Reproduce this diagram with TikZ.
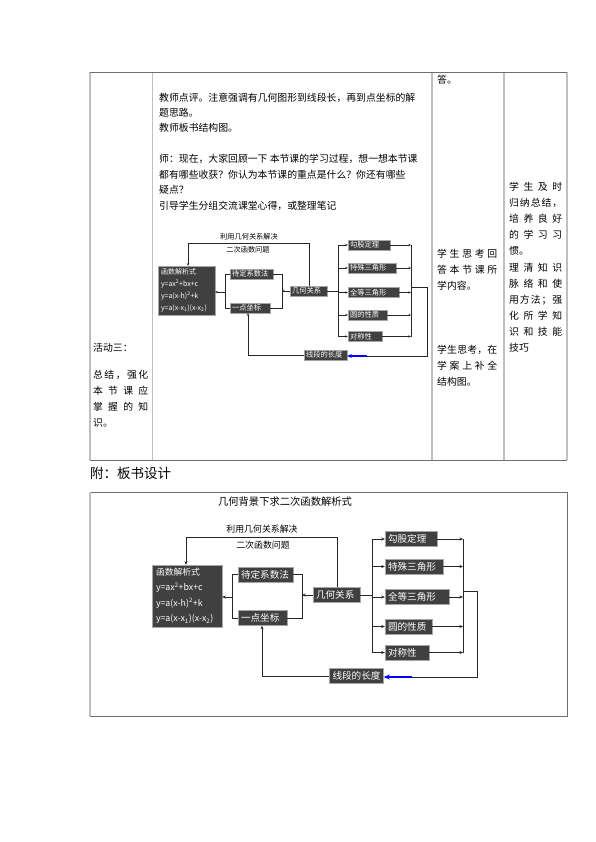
\documentclass[tikz,border=0pt]{standalone}
\usepackage{fontspec}
\setmainfont{Noto Sans CJK SC}
\usetikzlibrary{arrows.meta}
\definecolor{boxgray}{HTML}{404040}
\definecolor{rulegray}{HTML}{BFBFBF}
\definecolor{linegray}{HTML}{6E6E6E}
\newcommand\fsz[1]{\fontsize{#1}{#1}\selectfont}
\def\sprB#1{#1\sprC}
\def\sprC#1{\ifx\relax#1\else\hfill#1\expandafter\sprC\fi}
\newcommand\spr[2]{\makebox[#1][s]{\sprB#2\relax}}
\begin{document}
\begin{tikzpicture}[x=1pt,y=-1pt,
  blk/.style={fill=boxgray,draw=gray!70,text=white,inner ysep=1pt},
  bbox/.style={blk,minimum height=15pt,text width=#1,inner xsep=3pt,font=\fsz{9.6}},
  sbox/.style={blk,minimum height=10pt,text width=#1,inner xsep=2pt,font=\fsz{7.3}},
  link/.style={draw=black!85,line width=0.8pt},
  arr/.style={link,-{Stealth[length=3.5pt,width=3pt]}},
  slink/.style={draw=black!85,line width=0.6pt},
  sarr/.style={slink,-{Stealth[length=2.6pt,width=2.3pt]}},
  txt/.style={anchor=west,inner sep=0pt,font=\fsz{9.85}},
  hline/.style={draw=linegray,line width=0.9pt},
  vline/.style={draw=rulegray,line width=1.4pt}]
  \fill[white] (0,0) rectangle (595,842);
  \useasboundingbox (0,0) rectangle (595,842);
  % table
  \draw[vline] (90,72) -- (90,460);
  \draw[vline] (152.5,72) -- (152.5,460);
  \draw[vline] (432,72) -- (432,460);
  \draw[vline] (504,72) -- (504,460);
  \draw[vline] (567,72) -- (567,460);
  \draw[hline] (90,72) -- (567,72);
  \draw[hline] (90,460) -- (567,460);
  \node[txt] (h1) at (93,348) {活动三：};
  \node[txt] (h2) at (93,375) {\spr{55pt}{总结，强化}};
  \node[txt] (h3) at (93,391) {\spr{55pt}{本节课应}};
  \node[txt] (h4) at (93,407) {\spr{55pt}{掌握的知}};
  \node[txt] (h5) at (93,423) {识。};
  \node[txt] (t1) at (159,98) {教师点评。注意强调有几何图形到线段长，再到点坐标的解};
  \node[txt] (t2) at (159,113) {题思路。};
  \node[txt] (t3) at (159,128) {教师板书结构图。};
  \node[txt] (t4) at (159,159) {师：现在，大家回顾一下 本节课的学习过程，想一想本节课};
  \node[txt] (t5) at (159,175) {都有哪些收获？你认为本节课的重点是什么？你还有哪些};
  \node[txt] (t6) at (159,190) {疑点？};
  \node[txt] (t7) at (159,206) {引导学生分组交流课堂心得，或整理笔记};
  \node[txt] (s0) at (437,80) {答。};
  \node[txt] (s1) at (437,254) {\spr{60pt}{学生思考回}};
  \node[txt] (s2) at (437,270) {\spr{60pt}{答本节课所}};
  \node[txt] (s3) at (437,286) {学内容。};
  \node[txt] (s4) at (437,350) {\spr{60pt}{学生思考，在}};
  \node[txt] (s5) at (437,366) {\spr{60pt}{学案上补全}};
  \node[txt] (s6) at (437,382) {结构图。};
  \node[txt] (m1) at (509,187) {\spr{53pt}{学生及时}};
  \node[txt] (m2) at (509,203) {\spr{53pt}{归纳总结，}};
  \node[txt] (m3) at (509,219) {\spr{53pt}{培养良好}};
  \node[txt] (m4) at (509,235) {\spr{53pt}{的学习习}};
  \node[txt] (m5) at (509,251) {惯。};
  \node[txt] (m6) at (509,268) {\spr{53pt}{理清知识}};
  \node[txt] (m7) at (509,284) {\spr{53pt}{脉络和使}};
  \node[txt] (m8) at (509,300) {\spr{53pt}{用方法；强}};
  \node[txt] (m9) at (509,316) {\spr{53pt}{化所学知}};
  \node[txt] (m10) at (509,332) {\spr{53pt}{识和技能}};
  \node[txt] (m11) at (509,348) {技巧};
  % small board diagram
  \node[blk,text width=51pt,inner xsep=3pt,minimum height=49pt,align=left,font=\fontsize{7}{12}\selectfont] (shanshu) at (186.5,290.5)
    {函数解析式\\y=ax\textsuperscript{2}+bx+c\\y=a(x-h)\textsuperscript{2}+k\\y=a(x-x\textsubscript{1})(x-x\textsubscript{2})};
  \node[sbox=39pt] (sdaiding) at (251.5,274) {待定系数法};
  \node[sbox=36pt] (szuobiao) at (250,308) {一点坐标};
  \node[sbox=33pt] (sjihe) at (308.5,291) {几何关系};
  \node[sbox=38pt] (sgougu) at (369,245) {勾股定理};
  \node[sbox=44pt] (steshu) at (372,268) {特殊三角形};
  \node[sbox=47pt] (squandeng) at (373.5,292.5) {全等三角形};
  \node[sbox=35pt] (syuan) at (367.5,315) {圆的性质};
  \node[sbox=30pt] (sduicheng) at (365,336.5) {对称性};
  \node[sbox=39pt] (sxianduan) at (325.5,355) {线段的长度};
  \node[inner sep=0pt,font=\fsz{7.2}] (slabA) at (249,237) {利用几何关系解决};
  \node[inner sep=0pt,font=\fsz{7.2}] (slabB) at (248,250) {二次函数问题};
  \coordinate (stl) at (188,243);
  \coordinate (str) at (309,243);
  \draw[sarr] (sjihe.north -| str) -- (str) -- (stl) -- (shanshu.north -| stl);
  \coordinate (slb) at (225,292);
  \draw[slink] (sdaiding.west) -- (sdaiding.west -| slb) -- (szuobiao.west -| slb) -- (szuobiao.west);
  \draw[sarr] (slb) -- (slb -| shanshu.east);
  \coordinate (srb) at (282,291);
  \draw[slink] (sdaiding.east) -- (sdaiding.east -| srb) -- (szuobiao.east -| srb) -- (szuobiao.east);
  \draw[sarr] (sjihe.west) -- (srb);
  \coordinate (slv) at (338,0);
  \coordinate (srv) at (411,0);
  \draw[slink] (sjihe.east) -- (sjihe.east -| slv);
  \draw[slink] (sgougu.west -| slv) -- (sduicheng.west -| slv);
  \draw[slink] (sgougu.east -| srv) -- (sduicheng.east -| srv);
  \foreach \n in {sgougu,steshu,squandeng,syuan,sduicheng} {
    \draw[sarr] (\n.west -| slv) -- (\n.west);
    \draw[sarr] (\n.east) -- (\n.east -| srv);
  }
  \coordinate (slp) at (367,356);
  \draw[slink] (411,287) -- (427,287) -- (427,356) -- (slp);
  \draw[blue,line width=1.3pt,-{Stealth[length=4.5pt,width=4pt]}] (slp) -- (slp -| sxianduan.east);
  \coordinate (sbl) at (248,355);
  \draw[sarr] (sxianduan.west) -- (sxianduan.west -| sbl) -- (szuobiao.south -| sbl);
  % board design
  \node[txt,font=\fsz{13.5}] (fu) at (90,473) {附：板书设计};
  \draw[hline] (90,492) -- (567,492) -- (567,716) -- (90,716);
  \draw[vline] (90,492) -- (90,716);
  \node[inner sep=0pt,font=\fsz{10.3}] (title) at (285,502) {几何背景下求二次函数解析式};
  \node[blk,text width=62pt,inner xsep=4pt,minimum height=62pt,align=left,font=\fontsize{8.8}{15.5}\selectfont] (hanshu) at (187,596)
    {函数解析式\\y=ax\textsuperscript{2}+bx+c\\y=a(x-h)\textsuperscript{2}+k\\y=a(x-x\textsubscript{1})(x-x\textsubscript{2})};
  \node[bbox=49pt] (daiding) at (265.5,574.5) {待定系数法};
  \node[bbox=43pt] (zuobiao) at (262.5,618) {一点坐标};
  \node[bbox=41pt] (jihe) at (336.5,595) {几何关系};
  \node[bbox=46pt] (gougu) at (411,539) {勾股定理};
  \node[bbox=52pt] (teshu) at (414,566.5) {特殊三角形};
  \node[bbox=58pt] (quandeng) at (417,597) {全等三角形};
  \node[bbox=41pt] (yuan) at (408.5,626.5) {圆的性质};
  \node[bbox=38pt] (duicheng) at (407,652.5) {对称性};
  \node[bbox=48pt] (xianduan) at (356.5,676) {线段的长度};
  \node[inner sep=0pt,font=\fsz{8.9}] (labA) at (262,529) {利用几何关系解决};
  \node[inner sep=0pt,font=\fsz{8.9}] (labB) at (263,545) {二次函数问题};
  \coordinate (tl) at (186,537);
  \coordinate (tr) at (337,537);
  \draw[arr] (jihe.north -| tr) -- (tr) -- (tl) -- (hanshu.north -| tl);
  \coordinate (lb) at (232,597);
  \draw[link] (daiding.west) -- (daiding.west -| lb) -- (zuobiao.west -| lb) -- (zuobiao.west);
  \draw[arr] (lb) -- (lb -| hanshu.east);
  \coordinate (rb) at (302,595);
  \draw[link] (daiding.east) -- (daiding.east -| rb) -- (zuobiao.east -| rb) -- (zuobiao.east);
  \draw[arr] (jihe.west) -- (rb);
  \coordinate (lv) at (372,0);
  \coordinate (rv) at (463,0);
  \draw[link] (jihe.east) -- (jihe.east -| lv);
  \draw[link] (gougu.west -| lv) -- (duicheng.west -| lv);
  \draw[link] (gougu.east -| rv) -- (duicheng.east -| rv);
  \foreach \n in {gougu,teshu,quandeng,yuan,duicheng} {
    \draw[arr] (\n.west -| lv) -- (\n.west);
    \draw[arr] (\n.east) -- (\n.east -| rv);
  }
  \coordinate (lp) at (412,677);
  \draw[link] (463,591) -- (477,591) -- (477,677) -- (lp);
  \draw[blue,line width=1.6pt,-{Stealth[length=6pt,width=5pt]}] (lp) -- (lp -| xianduan.east);
  \coordinate (bl) at (262,676);
  \draw[arr] (xianduan.west) -- (xianduan.west -| bl) -- (zuobiao.south -| bl);
\end{tikzpicture}
\end{document}
